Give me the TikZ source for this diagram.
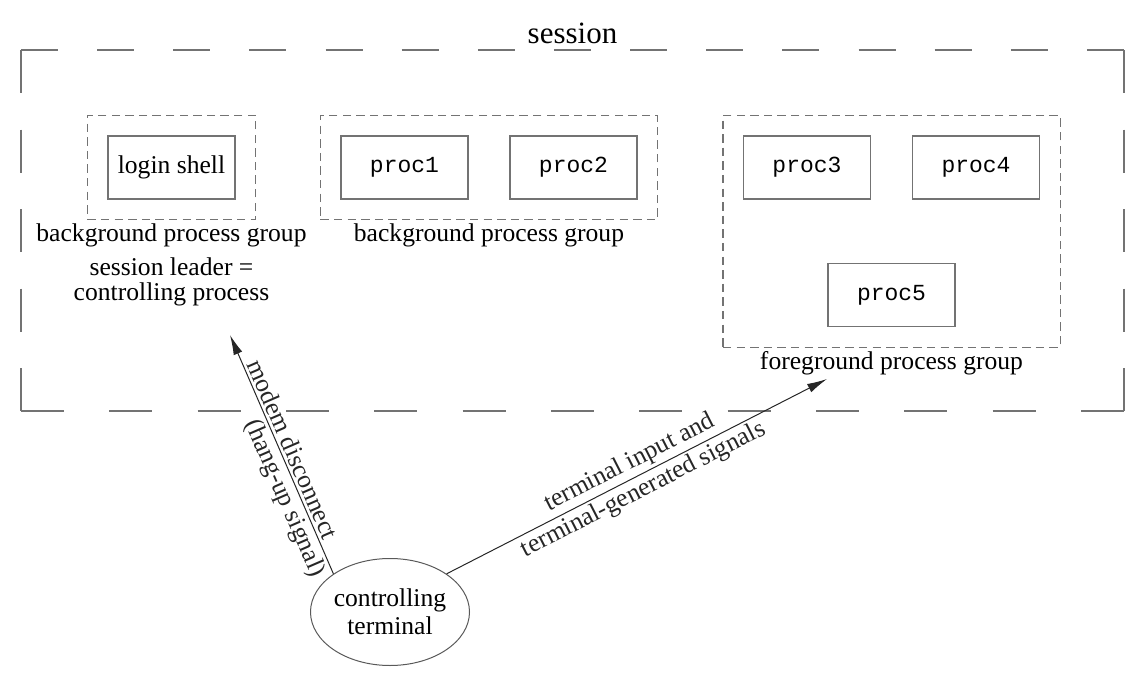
\documentclass[tikz,border=0pt]{standalone}
\usepackage{fontspec}
\setmainfont{Liberation Serif}
\setmonofont{Liberation Mono}
\usetikzlibrary{positioning,fit,shapes.geometric,arrows.meta}

\newcommand\gfont{\fontsize{12.8}{14}\selectfont}

\tikzset{
  frame/.style={draw=black!55, line width=.6pt},
  proc/.style={draw=black!55, line width=.6pt, minimum width=63.5pt,
    minimum height=31.5pt, inner sep=0pt, font=\fontsize{11.5}{13}\ttfamily},
  pgroup/.style={draw=black!55, line width=.6pt,
    dash pattern=on 4.2pt off 2.6pt, inner sep=10pt},
  glabel/.style={font=\gfont, inner sep=1.5pt, align=center},
  sig/.style={-{Latex[length=10pt,width=4.6pt]}, line width=.5pt, black!85},
}

\begin{document}
\begin{tikzpicture}[x=.5pt,y=-.5pt]
\useasboundingbox (0,0) rectangle (1142,680);

% the session
\coordinate (snw) at (21,50);   \coordinate (sne) at (1124,50);
\coordinate (ssw) at (21,411);  \coordinate (sse) at (1124,411);
\draw[frame, dash pattern=on 18.5pt off 19.57pt] (snw) -- (sne);
\draw[frame, dash pattern=on 21.5pt off 22.67pt] (ssw) -- (sse);
\draw[frame, dash pattern=on 21.5pt off 18.25pt] (snw) -- (ssw);
\draw[frame, dash pattern=on 21.5pt off 18.25pt] (sne) -- (sse);
\node[font=\fontsize{15.5}{17}\selectfont] (session) at (572.5,33) {session};

% processes
\node[proc, font=\gfont] (login) at (171.5,167.5) {login shell};
\node[proc] (proc1) at (404.5,167.5) {proc1};
\node[proc] (proc2) at (573.5,167.5) {proc2};
\node[proc] (proc3) at (807,167.5) {proc3};
\node[proc] (proc4) at (976,167.5) {proc4};
\node[proc] (proc5) at (891.5,295) {proc5};

% process groups
\node[pgroup, fit=(login)] (bgA) {};
\node[pgroup, fit=(proc1) (proc2)] (bgB) {};
\node[pgroup, fit=(proc3) (proc4) (proc5)] (fg) {};
\node[glabel, below=0pt of bgA] (bgAlab) {background process group};
\node[glabel, below=0pt of bgB] (bgBlab) {background process group};
\node[glabel, below=0pt of fg] (fglab) {foreground process group};
\node[glabel, font=\fontsize{12.8}{12.5}\selectfont, below=2pt of bgAlab] (leader)
  {session leader =\\controlling process};

% the terminal
\node[draw=black!65, line width=.5pt, ellipse, minimum width=79.5pt,
  minimum height=53.5pt, inner sep=0pt, align=center, font=\gfont] (term)
  at (390,612) {controlling\\terminal};
\coordinate (tipA) at (230,335);
\coordinate (tipB) at (827,379);

\draw[sig] (term.146) -- (tipA)
  node[glabel, sloped, pos=.5, above=0pt] (hupA) {modem disconnect}
  node[glabel, sloped, pos=.34, below=0pt] (hupB) {(hang-up signal)};
\draw[sig] (term.34) -- (tipB)
  node[glabel, sloped, midway, above=0pt] (inA) {terminal input and}
  node[glabel, sloped, midway, below=0pt] (inB) {terminal-generated signals};
\end{tikzpicture}
\end{document}
